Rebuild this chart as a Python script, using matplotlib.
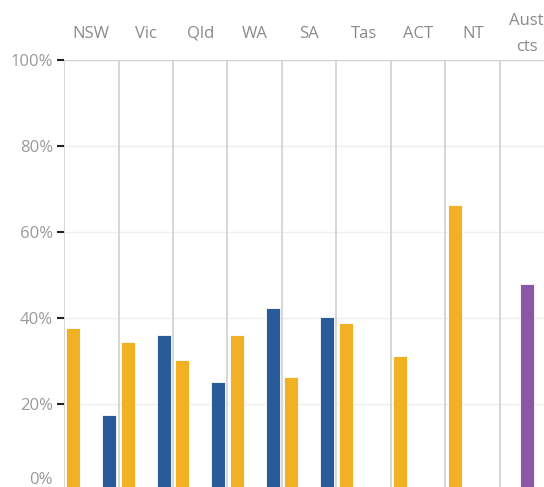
import matplotlib
matplotlib.use("Agg")
import matplotlib.pyplot as plt
import matplotlib.transforms as mtransforms
import numpy as np

# Data (percent)
states = ["NSW", "Vic", "Qld", "WA", "SA", "Tas", "ACT", "NT", "Aust"]
orange_vals = [37.6, 34.4, 30.2, 36.0, 26.3, 38.9, 31.2, 66.3, None]
purple_vals = [None, None, None, None, None, None, None, None, 48.0]
blue_vals = [17.5, 36.0, 25.0, 42.3, 40.3, None, None, None, None]
yticks = [0, 20, 40, 60, 80, 100]
ytick_labels = ["0%", "20%", "40%", "60%", "80%", "100%"]

ORANGE = "#f2b025"
PURPLE = "#8a57a3"
BLUE = "#295b9a"
FONT = "Open Sans"

W, H = 544, 487
fig = plt.figure(figsize=(W / 100, H / 100), dpi=100)
fig.patch.set_facecolor("white")

panel_px = 54.5
left_px = 64
top_px = 60
zero_px = 490
n = len(states)
ax = fig.add_axes([left_px / W, 1 - zero_px / H, n * panel_px / W, (zero_px - top_px) / H])
ax.set_xlim(0, 3 * n)
ax.set_ylim(0, 100)
ax.set_facecolor("white")
for s in ax.spines.values():
    s.set_visible(False)

# gridlines
for y in yticks[1:-1]:
    ax.axhline(y, color="#efefef", lw=1.0, zorder=0)
ax.axhline(100, color="#d0d0d0", lw=1.0, zorder=1)
for i in range(n + 1):
    ax.axvline(3 * i, color="#d0d0d0", lw=1.2, zorder=1)

bw = 0.77
for i in range(n):
    for off, vals, col in ((0.5, orange_vals, ORANGE), (1.5, purple_vals, PURPLE), (2.5, blue_vals, BLUE)):
        v = vals[i]
        if v is None:
            continue
        ax.bar(3 * i + off, v, width=bw, color=col, edgecolor="white", linewidth=0.6, zorder=3)

ax.set_xticks([])
ax.set_yticks(yticks)
ax.set_yticklabels(ytick_labels, fontsize=12, color="#9a9a9a", family=FONT)
ax.tick_params(axis="y", length=5, width=1.5, color="#222222", pad=3)
# keep the 0% label inside the picture (shifted upward as in the reference)
lbl0 = ax.get_yticklabels()[0]
lbl0.set_transform(lbl0.get_transform() + mtransforms.ScaledTranslation(0, 12 / 100, fig.dpi_scale_trans))

# column headers
for i, st in enumerate(states[:-1]):
    xc = (left_px + (i + 0.5) * panel_px) / W
    fig.text(xc, 1 - 34 / H, st, ha="center", va="center", fontsize=12, color="#8a8a8a", family=FONT)
fig.text(509 / W, 1 - 21 / H, "Aust", ha="left", va="center", fontsize=12, color="#8a8a8a", family=FONT)
fig.text(527 / W, 1 - 47 / H, "cts", ha="center", va="center", fontsize=12, color="#8a8a8a", family=FONT)

fig.savefig("out.png", dpi=100, facecolor="white")
